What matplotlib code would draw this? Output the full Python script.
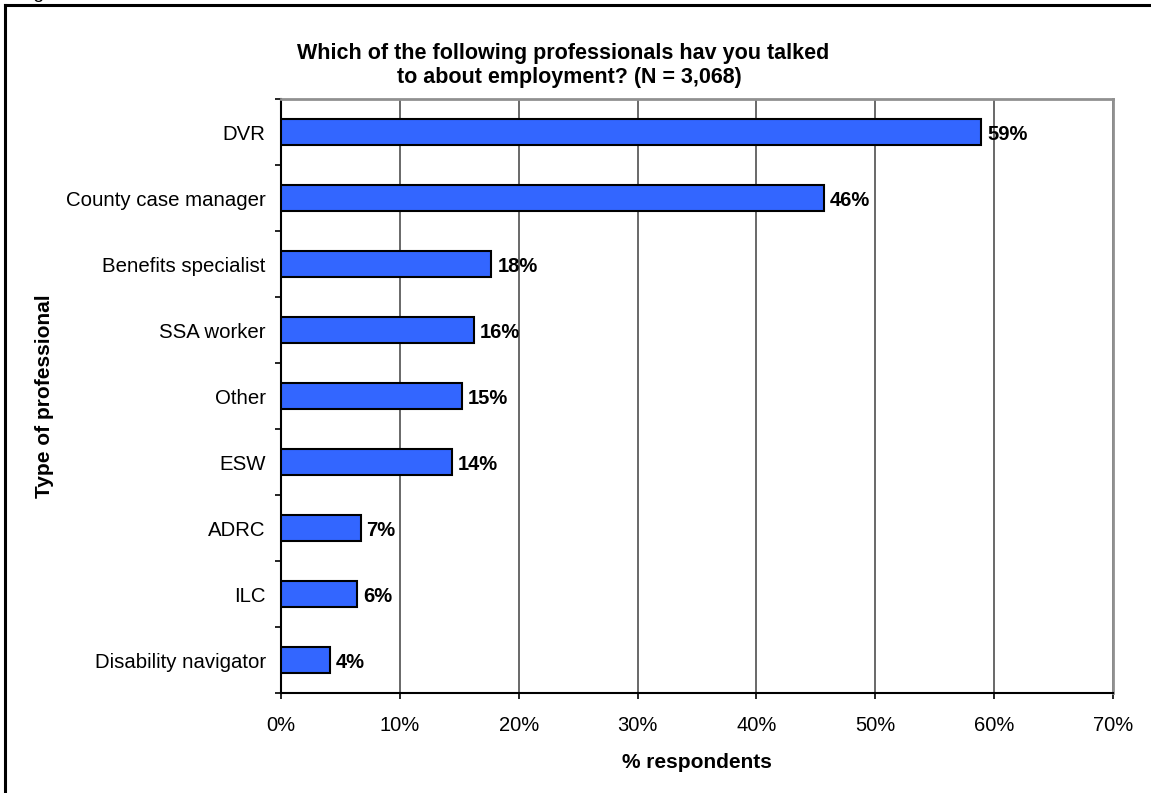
import matplotlib
matplotlib.use("Agg")
import matplotlib.pyplot as plt
from matplotlib.lines import Line2D
from matplotlib.ticker import FixedLocator, PercentFormatter

plt.rcParams["font.family"] = ["Liberation Sans", "DejaVu Sans"]

professionals = ["DVR", "County case manager", "Benefits specialist", "SSA worker",
                 "Other", "ESW", "ADRC", "ILC", "Disability navigator"]
pct = [58.9, 45.7, 17.7, 16.2, 15.2, 14.4, 6.7, 6.4, 4.1]
x_ticks = [0, 10, 20, 30, 40, 50, 60, 70]

W, H = 1151, 793
fig = plt.figure(figsize=(W / 100, H / 100), dpi=100)

# plot area in pixel terms
left, right, top, bottom = 281, 1113, 99, 693
ax = fig.add_axes([left / W, 1 - bottom / H, (right - left) / W, (bottom - top) / H])

n = len(professionals)
ypos = list(range(n - 1, -1, -1))
ax.barh(ypos, pct, height=0.4, color="#3366FF", edgecolor="black", linewidth=1.5, zorder=3)

for y, v in zip(ypos, pct):
    ax.text(v + 0.5, y, f"{round(v)}%", va="center_baseline", ha="left",
            fontsize=14.5, fontweight="bold", zorder=4)

ax.set_xlim(0, 70)
ax.set_ylim(-0.5, n - 0.5)
ax.set_xticks(x_ticks)
ax.xaxis.set_major_formatter(PercentFormatter(decimals=0))
ax.set_yticks(ypos)
ax.set_yticklabels(professionals)
ax.yaxis.set_minor_locator(FixedLocator([i - 0.5 for i in range(n + 1)]))

ax.tick_params(axis="y", which="major", length=0, labelsize=14.7, pad=11)
ax.tick_params(axis="y", which="minor", length=4.5, width=1.2, direction="out")
ax.tick_params(axis="x", which="major", length=4.5, width=1.2, direction="out",
               labelsize=14.5, pad=12)

ax.grid(axis="x", color="#404040", linewidth=1.1, zorder=0)
ax.spines["left"].set_linewidth(1.5)
ax.spines["bottom"].set_linewidth(1.5)
ax.spines["top"].set_color("#909090")
ax.spines["right"].set_color("#909090")
ax.spines["top"].set_linewidth(2)
ax.spines["right"].set_linewidth(2)

fig.text(697 / W, 1 - 762 / H, "% respondents", ha="center", va="center",
         fontsize=15, fontweight="bold")
fig.text(45 / W, 1 - 396 / H, "Type of professional", ha="center", va="center",
         rotation=90, fontsize=15, fontweight="bold")
fig.text(563 / W, 1 - 53 / H, "Which of the following professionals hav you talked",
         ha="center", va="center", fontsize=15.5, fontweight="bold")
fig.text(569 / W, 1 - 78 / H, "to about employment? (N = 3,068)",
         ha="center", va="center", fontsize=15.5, fontweight="bold")

# outer frame and clipped caption above it
fig.add_artist(Line2D([5 / W, 5 / W], [0, 1 - 5 / H], color="black", linewidth=2.2))
fig.add_artist(Line2D([5 / W, 1], [1 - 5 / H, 1 - 5 / H], color="black", linewidth=2.2))
fig.text(17 / W, 1 + 1.5 / H, "Figure", ha="left", va="baseline", fontsize=14)

fig.savefig("out.png", dpi=100)
